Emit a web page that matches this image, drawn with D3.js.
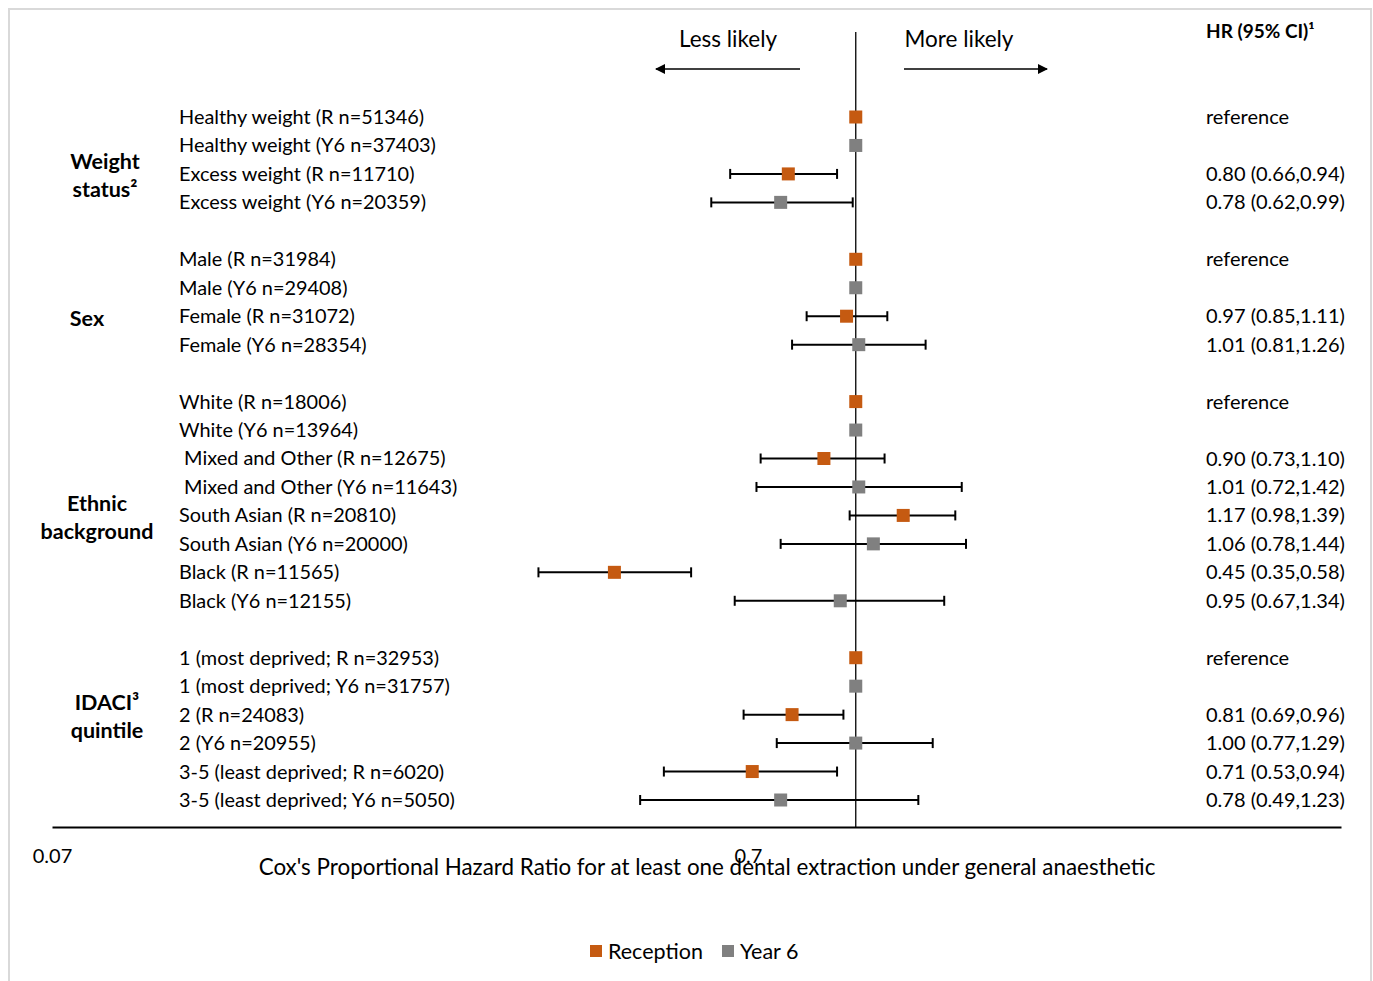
<!DOCTYPE html>
<html>
<head>
<meta charset="utf-8">
<script src="https://cdn.jsdelivr.net/npm/d3@7"></script>
<style>
  body { margin: 0; background: #fff; }
  svg text { font-family: Lato, "Open Sans", sans-serif; fill: #000; }
</style>
</head>
<body>
<svg id="chart" width="1373" height="981"></svg>
<script>
// data
const labels = [
  "Healthy weight (R n=51346)", "Healthy weight (Y6 n=37403)", "Excess weight (R n=11710)", "Excess weight (Y6 n=20359)",
  "Male (R n=31984)", "Male (Y6 n=29408)", "Female (R n=31072)", "Female (Y6 n=28354)",
  "White (R n=18006)", "White (Y6 n=13964)", " Mixed and Other (R n=12675)", " Mixed and Other (Y6 n=11643)",
  "South Asian (R n=20810)", "South Asian (Y6 n=20000)", "Black (R n=11565)", "Black (Y6 n=12155)",
  "1 (most deprived; R n=32953)", "1 (most deprived; Y6 n=31757)", "2 (R n=24083)", "2 (Y6 n=20955)",
  "3-5 (least deprived; R n=6020)", "3-5 (least deprived; Y6 n=5050)"
];
const cohort = ["R","Y6","R","Y6", "R","Y6","R","Y6", "R","Y6","R","Y6","R","Y6","R","Y6", "R","Y6","R","Y6","R","Y6"];
const hr    = [1,1,0.80,0.78, 1,1,0.97,1.01, 1,1,0.90,1.01,1.17,1.06,0.45,0.95, 1,1,0.81,1.00,0.71,0.78];
const lower = [null,null,0.66,0.62, null,null,0.85,0.81, null,null,0.73,0.72,0.98,0.78,0.35,0.67, null,null,0.69,0.77,0.53,0.49];
const upper = [null,null,0.94,0.99, null,null,1.11,1.26, null,null,1.10,1.42,1.39,1.44,0.58,1.34, null,null,0.96,1.29,0.94,1.23];
const hrText = ["reference","","0.80 (0.66,0.94)","0.78 (0.62,0.99)",
  "reference","","0.97 (0.85,1.11)","1.01 (0.81,1.26)",
  "reference","","0.90 (0.73,1.10)","1.01 (0.72,1.42)","1.17 (0.98,1.39)","1.06 (0.78,1.44)","0.45 (0.35,0.58)","0.95 (0.67,1.34)",
  "reference","","0.81 (0.69,0.96)","1.00 (0.77,1.29)","0.71 (0.53,0.94)","0.78 (0.49,1.23)"];
const groupSizes = [4, 4, 8, 6];
const groupNames = [["Weight", "status²"], ["Sex"], ["Ethnic", "background"], ["IDACI³", "quintile"]];
const groupCentreRow = [2, 2, 4, 2];
const groupX = [105, 87, 97, 107];
const tickValues = [0.07, 0.7];
const series = ["Reception", "Year 6"];
const colors = {R: "#C55A11", Y6: "#808080"};

// slot index per row: a blank slot between groups
const slot = [];
let s = 0;
groupSizes.forEach((n, g) => {
  for (let i = 0; i < n; i++) slot.push(s++);
  s++;
});

const svg = d3.select("#chart");

// outer frame
svg.append("rect").attr("x", 9).attr("y", 9).attr("width", 1362).attr("height", 990)
  .attr("fill", "none").attr("stroke", "#d9d9d9").attr("stroke-width", 2);

const x = d3.scaleLog().domain([0.07, 4.98]).range([52, 1341]);
const y = d3.scaleLinear().domain([0, 24]).range([117, 800]);
const axisY = 827;

// reference line at HR = 1
svg.append("line").attr("x1", x(1)).attr("x2", x(1)).attr("y1", 32).attr("y2", axisY)
  .attr("stroke", "#000").attr("stroke-width", 1.3);

// bottom axis
const axis = svg.append("g").attr("transform", `translate(0,${axisY})`)
  .call(d3.axisBottom(x).tickValues(tickValues).tickSize(0).tickFormat(d3.format("")));
axis.select(".domain").attr("stroke", "#000").attr("stroke-width", 2);
axis.selectAll("text").attr("font-size", 20).attr("dy", 0).attr("y", 36)
  .style("font-family", "Lato, 'Open Sans', sans-serif");

svg.append("text").attr("x", 707).attr("y", 875).attr("text-anchor", "middle")
  .attr("font-size", 22.4)
  .text("Cox's Proportional Hazard Ratio for at least one dental extraction under general anaesthetic");

// direction arrows
const defs = svg.append("defs");
defs.append("marker").attr("id", "arrow").attr("viewBox", "0 0 10 10").attr("refX", 9).attr("refY", 5)
  .attr("markerWidth", 14).attr("markerHeight", 10).attr("markerUnits", "userSpaceOnUse").attr("orient", "auto")
  .append("path").attr("d", "M0,0 L10,5 L0,10 Z").attr("fill", "#000");
svg.append("line").attr("x1", 800).attr("x2", 656).attr("y1", 69).attr("y2", 69)
  .attr("stroke", "#000").attr("stroke-width", 1.3).attr("marker-end", "url(#arrow)");
svg.append("line").attr("x1", 904).attr("x2", 1047).attr("y1", 69).attr("y2", 69)
  .attr("stroke", "#000").attr("stroke-width", 1.3).attr("marker-end", "url(#arrow)");
svg.append("text").attr("x", 728).attr("y", 47).attr("text-anchor", "middle").attr("font-size", 22.5).text("Less likely");
svg.append("text").attr("x", 959).attr("y", 47).attr("text-anchor", "middle").attr("font-size", 22.5).text("More likely");

svg.append("text").attr("x", 1206).attr("y", 38).attr("font-size", 19).attr("font-weight", "bold").text("HR (95% CI)¹");

// row labels and HR text
const rows = labels.map((l, i) => ({label: l, cohort: cohort[i], hr: hr[i], lo: lower[i], hi: upper[i], txt: hrText[i], slot: slot[i]}));

svg.selectAll(".rowlab").data(rows).enter().append("text")
  .attr("class", "rowlab")
  .attr("x", 179).attr("y", d => y(d.slot)).attr("dy", "0.35em")
  .attr("font-size", 19.9).style("white-space", "pre")
  .text(d => d.label);

svg.selectAll(".hrtxt").data(rows).enter().append("text")
  .attr("class", "hrtxt")
  .attr("x", 1206).attr("y", d => y(d.slot)).attr("dy", "0.35em")
  .attr("font-size", 20)
  .text(d => d.txt);

// group labels
let start = 0;
groupSizes.forEach((n, g) => {
  const cy = y(slot[start + groupCentreRow[g]]) + 2;
  const lines = groupNames[g];
  const t = svg.append("text").attr("text-anchor", "middle").attr("font-size", 21.5).attr("font-weight", "bold");
  lines.forEach((ln, k) => {
    t.append("tspan").attr("x", groupX[g])
      .attr("y", cy + (k - (lines.length - 1) / 2) * 28).attr("dy", "0.35em").text(ln);
  });
  start += n;
});

// confidence intervals
const ci = rows.filter(d => d.lo != null);
const cig = svg.selectAll(".ci").data(ci).enter().append("g").attr("class", "ci");
cig.append("line").attr("x1", d => x(d.lo)).attr("x2", d => x(d.hi))
  .attr("y1", d => y(d.slot)).attr("y2", d => y(d.slot)).attr("stroke", "#000").attr("stroke-width", 2);
cig.append("line").attr("x1", d => x(d.lo)).attr("x2", d => x(d.lo))
  .attr("y1", d => y(d.slot) - 5).attr("y2", d => y(d.slot) + 5).attr("stroke", "#000").attr("stroke-width", 2);
cig.append("line").attr("x1", d => x(d.hi)).attr("x2", d => x(d.hi))
  .attr("y1", d => y(d.slot) - 5).attr("y2", d => y(d.slot) + 5).attr("stroke", "#000").attr("stroke-width", 2);

// point estimates
const m = 13;
svg.selectAll(".pt").data(rows).enter().append("rect")
  .attr("class", "pt")
  .attr("x", d => x(d.hr) - m / 2).attr("y", d => y(d.slot) - m / 2)
  .attr("width", m).attr("height", m)
  .attr("fill", d => colors[d.cohort]);

// legend
const leg = svg.append("g").attr("transform", "translate(590,951)");
series.forEach((name, i) => {
  const ox = i === 0 ? 0 : 132;
  leg.append("rect").attr("x", ox).attr("y", -6).attr("width", 12).attr("height", 12)
    .attr("fill", i === 0 ? colors.R : colors.Y6);
  leg.append("text").attr("x", ox + 18).attr("y", 0).attr("dy", "0.35em").attr("font-size", 21.5).text(name);
});
</script>
</body>
</html>
